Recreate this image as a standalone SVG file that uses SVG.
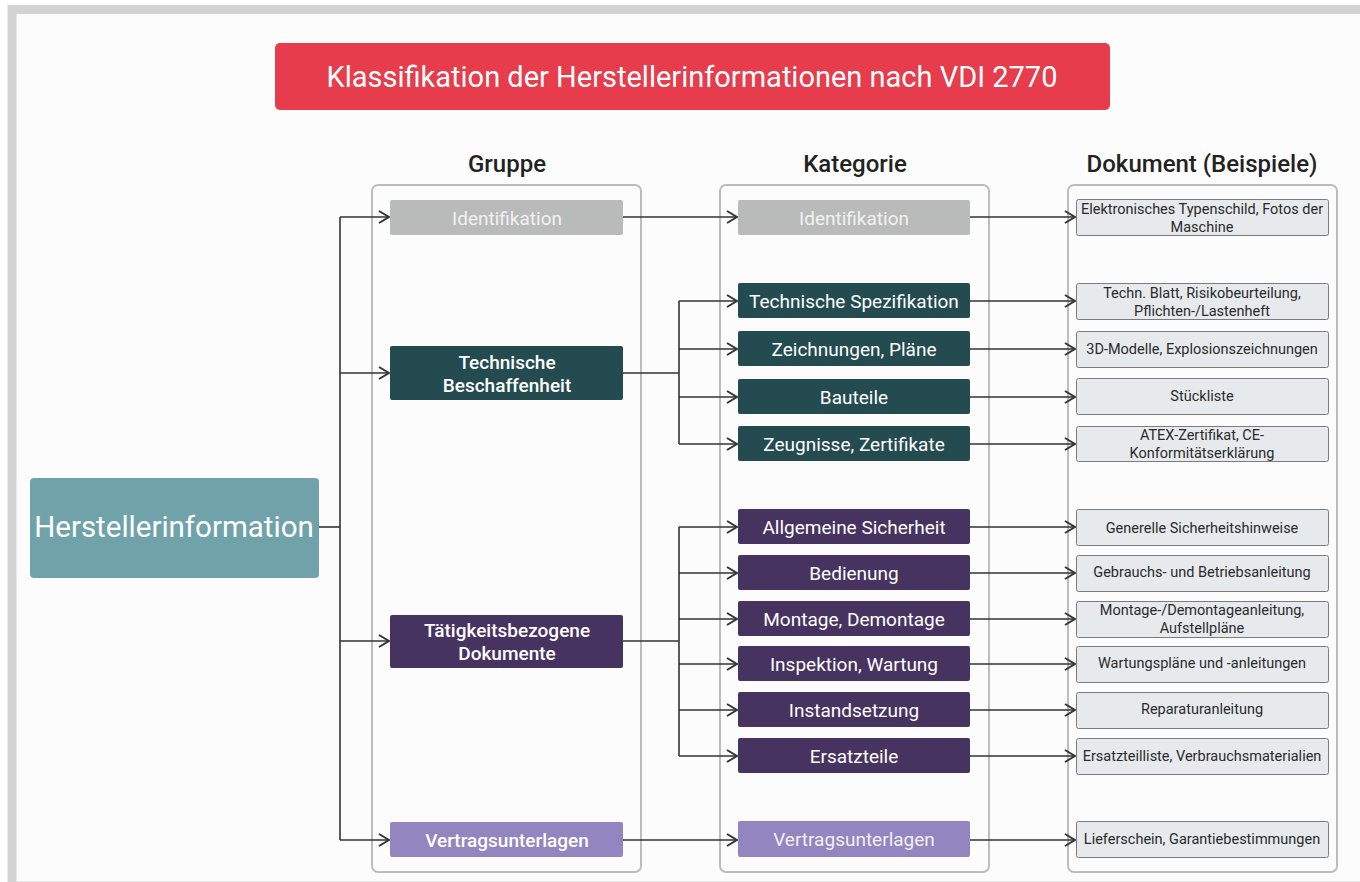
<svg xmlns="http://www.w3.org/2000/svg" width="1360" height="882" viewBox="0 0 1360 882">
  <style>
    text { font-family: Roboto, "Liberation Sans", sans-serif; text-anchor: middle; dominant-baseline: central; }
    .title { fill: #ffffff; font-size: 29px; }
    .head { fill: #222222; font-size: 24px; font-weight: 500; }
    .col { fill: none; stroke: #bcbcbc; stroke-width: 2; }
    .g { font-size: 19px; fill: #ffffff; font-weight: 500; }
    .n { font-size: 19px; fill: #ffffff; }
    .nl { font-size: 19px; fill: #f1f1f1; }
    .ident { fill: #b9baba; }
    .tech { fill: #244b4f; }
    .act { fill: #47335f; }
    .contr { fill: #9385bf; }
    .doc rect { fill: #e6eaed; stroke: #7c7c7c; stroke-width: 1; }
    .doc text { font-size: 14.5px; fill: #2a2a2a; }
    .conn path { fill: none; stroke: #333333; stroke-width: 1.6; }
    .conn path.arr { marker-end: url(#chev); }
  </style>
  <defs>
    <marker id="chev" viewBox="0 0 12 14" refX="11" refY="7" markerWidth="12" markerHeight="14" markerUnits="userSpaceOnUse" orient="auto">
      <path d="M1,1 L11,7 L1,13" fill="none" stroke="#333333" stroke-width="2"/>
    </marker>
  </defs>

  <!-- page frame -->
  <rect x="0" y="0" width="1360" height="882" fill="#ffffff"/>
  <rect x="12" y="9.5" width="1400" height="900" fill="#fcfcfc" stroke="#d3d3d3" stroke-width="9"/>
  <line x1="16" y1="881.5" x2="1360" y2="881.5" stroke="#e6e6e6" stroke-width="1"/>

  <!-- title -->
  <g id="title">
    <rect x="275" y="43" width="835" height="67" rx="5" fill="#e63c4b"/>
    <text class="title" x="692" y="77">Klassifikation der Herstellerinformationen nach VDI 2770</text>
  </g>

  <!-- column headers and frames -->
  <g id="columns">
    <text class="head" x="507" y="164">Gruppe</text>
    <text class="head" x="855" y="164">Kategorie</text>
    <text class="head" x="1202" y="164">Dokument (Beispiele)</text>
    <rect class="col" x="372" y="185" width="269" height="687" rx="6"/>
    <rect class="col" x="720" y="185" width="269" height="687" rx="6"/>
    <rect class="col" x="1068" y="185" width="269" height="687" rx="6"/>
  </g>

  <!-- connectors -->
  <g id="connectors" class="conn">
    <!-- root to groups -->
    <path d="M319,527 H340"/>
    <path d="M340,217 V840"/>
    <path class="arr" d="M340,217 H389"/>
    <path class="arr" d="M340,373 H389"/>
    <path class="arr" d="M340,641 H389"/>
    <path class="arr" d="M340,840 H389"/>
    <!-- groups to categories -->
    <path class="arr" d="M623,217 H737"/>
    <path d="M623,373 H679"/>
    <path d="M679,301 V444"/>
    <path class="arr" d="M679,301 H737"/>
    <path class="arr" d="M679,349 H737"/>
    <path class="arr" d="M679,397 H737"/>
    <path class="arr" d="M679,444 H737"/>
    <path d="M623,641 H679"/>
    <path d="M679,527 V756"/>
    <path class="arr" d="M679,527 H737"/>
    <path class="arr" d="M679,573 H737"/>
    <path class="arr" d="M679,619 H737"/>
    <path class="arr" d="M679,664 H737"/>
    <path class="arr" d="M679,710 H737"/>
    <path class="arr" d="M679,756 H737"/>
    <path class="arr" d="M623,840 H737"/>
    <!-- categories to documents -->
    <path class="arr" d="M970,217 H1075"/>
    <path class="arr" d="M970,301 H1075"/>
    <path class="arr" d="M970,349 H1075"/>
    <path class="arr" d="M970,397 H1075"/>
    <path class="arr" d="M970,444 H1075"/>
    <path class="arr" d="M970,527 H1075"/>
    <path class="arr" d="M970,573 H1075"/>
    <path class="arr" d="M970,619 H1075"/>
    <path class="arr" d="M970,664 H1075"/>
    <path class="arr" d="M970,710 H1075"/>
    <path class="arr" d="M970,756 H1075"/>
    <path class="arr" d="M970,840 H1075"/>
  </g>

  <!-- root -->
  <g id="root">
    <rect x="30" y="478" width="289" height="100" rx="4" fill="#6fa3a9"/>
    <text x="174" y="527" font-size="29.5" fill="#ffffff">Herstellerinformation</text>
  </g>

  <!-- groups -->
  <g id="g-identifikation">
    <rect class="ident" x="390" y="200" width="233" height="35" rx="2"/>
    <text class="nl" x="507" y="218">Identifikation</text>
  </g>
  <g id="g-technische">
    <rect class="tech" x="390" y="346" width="233" height="54" rx="2"/>
    <text class="g" x="507" y="362">Technische</text>
    <text class="g" x="507" y="385">Beschaffenheit</text>
  </g>
  <g id="g-taetigkeit">
    <rect class="act" x="390" y="615" width="233" height="53" rx="2"/>
    <text class="g" x="507" y="630">Tätigkeitsbezogene</text>
    <text class="g" x="507" y="653">Dokumente</text>
  </g>
  <g id="g-vertrag">
    <rect class="contr" x="390" y="822" width="233" height="35" rx="2"/>
    <text class="g" x="507" y="840" fill="#f1f1f1">Vertragsunterlagen</text>
  </g>

  <!-- categories -->
  <g id="k-identifikation">
    <rect class="ident" x="738" y="200" width="232" height="35" rx="2"/>
    <text class="nl" x="854" y="218">Identifikation</text>
  </g>
  <g id="k-spezifikation">
    <rect class="tech" x="738" y="283" width="232" height="35" rx="2"/>
    <text class="n" x="854" y="301">Technische Spezifikation</text>
  </g>
  <g id="k-zeichnungen">
    <rect class="tech" x="738" y="331" width="232" height="35" rx="2"/>
    <text class="n" x="854" y="349">Zeichnungen, Pläne</text>
  </g>
  <g id="k-bauteile">
    <rect class="tech" x="738" y="379" width="232" height="35" rx="2"/>
    <text class="n" x="854" y="397">Bauteile</text>
  </g>
  <g id="k-zeugnisse">
    <rect class="tech" x="738" y="426" width="232" height="35" rx="2"/>
    <text class="n" x="854" y="444">Zeugnisse, Zertifikate</text>
  </g>
  <g id="k-sicherheit">
    <rect class="act" x="738" y="509" width="232" height="35" rx="2"/>
    <text class="n" x="854" y="527">Allgemeine Sicherheit</text>
  </g>
  <g id="k-bedienung">
    <rect class="act" x="738" y="555" width="232" height="35" rx="2"/>
    <text class="n" x="854" y="573">Bedienung</text>
  </g>
  <g id="k-montage">
    <rect class="act" x="738" y="601" width="232" height="35" rx="2"/>
    <text class="n" x="854" y="619">Montage, Demontage</text>
  </g>
  <g id="k-inspektion">
    <rect class="act" x="738" y="646" width="232" height="35" rx="2"/>
    <text class="n" x="854" y="664">Inspektion, Wartung</text>
  </g>
  <g id="k-instandsetzung">
    <rect class="act" x="738" y="692" width="232" height="35" rx="2"/>
    <text class="n" x="854" y="710">Instandsetzung</text>
  </g>
  <g id="k-ersatzteile">
    <rect class="act" x="738" y="738" width="232" height="35" rx="2"/>
    <text class="n" x="854" y="756">Ersatzteile</text>
  </g>
  <g id="k-vertrag">
    <rect class="contr" x="738" y="821" width="232" height="36" rx="2"/>
    <text class="nl" x="854" y="839">Vertragsunterlagen</text>
  </g>

  <!-- documents -->
  <g id="d-typenschild" class="doc">
    <rect x="1076.5" y="199.5" width="252" height="36" rx="2"/>
    <text x="1202" y="209">Elektronisches Typenschild, Fotos der</text>
    <text x="1202" y="227">Maschine</text>
  </g>
  <g id="d-blatt" class="doc">
    <rect x="1076.5" y="283.5" width="252" height="36" rx="2"/>
    <text x="1202" y="293">Techn. Blatt, Risikobeurteilung,</text>
    <text x="1202" y="311">Pflichten-/Lastenheft</text>
  </g>
  <g id="d-modelle" class="doc">
    <rect x="1076.5" y="331.5" width="252" height="36" rx="2"/>
    <text x="1202" y="349.5">3D-Modelle, Explosionszeichnungen</text>
  </g>
  <g id="d-stueckliste" class="doc">
    <rect x="1076.5" y="378.5" width="252" height="36" rx="2"/>
    <text x="1202" y="396.5">Stückliste</text>
  </g>
  <g id="d-atex" class="doc">
    <rect x="1076.5" y="426.5" width="252" height="35" rx="2"/>
    <text x="1202" y="435">ATEX-Zertifikat, CE-</text>
    <text x="1202" y="453">Konformitätserklärung</text>
  </g>
  <g id="d-sicherheit" class="doc">
    <rect x="1076.5" y="509.5" width="252" height="36" rx="2"/>
    <text x="1202" y="528">Generelle Sicherheitshinweise</text>
  </g>
  <g id="d-gebrauch" class="doc">
    <rect x="1076.5" y="555.5" width="252" height="36" rx="2"/>
    <text x="1202" y="572">Gebrauchs- und Betriebsanleitung</text>
  </g>
  <g id="d-montage" class="doc">
    <rect x="1076.5" y="601.5" width="252" height="36" rx="2"/>
    <text x="1202" y="610">Montage-/Demontageanleitung,</text>
    <text x="1202" y="628">Aufstellpläne</text>
  </g>
  <g id="d-wartung" class="doc">
    <rect x="1076.5" y="646.5" width="252" height="36" rx="2"/>
    <text x="1202" y="663">Wartungspläne und -anleitungen</text>
  </g>
  <g id="d-reparatur" class="doc">
    <rect x="1076.5" y="692.5" width="252" height="36" rx="2"/>
    <text x="1202" y="709">Reparaturanleitung</text>
  </g>
  <g id="d-ersatzteile" class="doc">
    <rect x="1076.5" y="738.5" width="252" height="36" rx="2"/>
    <text x="1202" y="756">Ersatzteilliste, Verbrauchsmaterialien</text>
  </g>
  <g id="d-lieferschein" class="doc">
    <rect x="1076.5" y="821.5" width="252" height="36" rx="2"/>
    <text x="1202" y="839">Lieferschein, Garantiebestimmungen</text>
  </g>
</svg>
